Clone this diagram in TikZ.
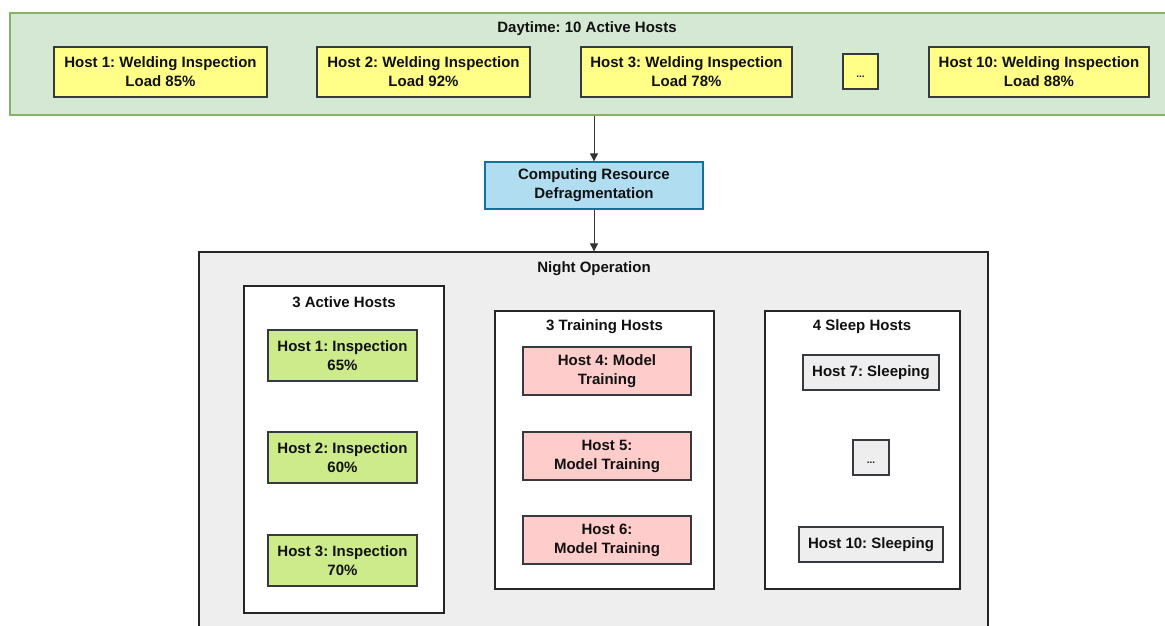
\documentclass[tikz,border=0pt]{standalone}
\usepackage{fontspec}
\setmainfont{Liberation Sans}
\usetikzlibrary{arrows.meta}

\definecolor{dayfill}{HTML}{D5E8D4}
\definecolor{dayline}{HTML}{82B366}
\definecolor{yellowfill}{HTML}{FFFF88}
\definecolor{boxline}{HTML}{36393D}
\definecolor{bluefill}{HTML}{B1DDF0}
\definecolor{blueline}{HTML}{10739E}
\definecolor{limefill}{HTML}{CDEB8B}
\definecolor{pinkfill}{HTML}{FFCCCC}
\definecolor{greyfill}{HTML}{EEEEEE}
\definecolor{txt}{HTML}{111111}

\frenchspacing

\tikzset{
  box/.style={draw=boxline, line width=1.3pt, align=center, inner sep=0pt,
    font=\fontsize{15}{19}\selectfont\bfseries, text=txt},
  daybox/.style={box, fill=yellowfill},
  activebox/.style={box, fill=limefill},
  trainbox/.style={box, fill=pinkfill},
  sleepbox/.style={box, fill=greyfill},
  dotbox/.style={font=\fontsize{10}{12}\selectfont\bfseries, text height=12pt, text depth=0pt},
  panel/.style={draw=black!85, line width=1.3pt, fill=white},
  heading/.style={inner sep=0pt, text=txt, font=\fontsize{15}{19}\selectfont\bfseries},
  arr/.style={draw=black!80, line width=0.9pt, -{Triangle[width=8pt,length=8pt]}}
}

\begin{document}
\begin{tikzpicture}[x=1pt,y=-1pt]
\useasboundingbox (0,0) rectangle (1165,625);
\clip (0,0) rectangle (1165,625);

% daytime group
\node[draw=dayline, fill=dayfill, line width=1.3pt, minimum width=1170pt, minimum height=102pt] (day) at (595,64) {};
\node[heading] (daytitle) at (587,29) {Daytime: 10 Active Hosts};
\node[daybox, minimum width=213pt, minimum height=50pt] (d1) at (160.5,72) {Host 1: Welding Inspection\\Load 85\%};
\node[daybox, minimum width=213pt, minimum height=50pt] (d2) at (423.5,72) {Host 2: Welding Inspection\\Load 92\%};
\node[daybox, minimum width=211pt, minimum height=50pt] (d3) at (686.5,72) {Host 3: Welding Inspection\\Load 78\%};
\node[daybox, dotbox, minimum width=35pt, minimum height=35pt] (ddots) at (860.5,71.5) {...};
\node[daybox, minimum width=220pt, minimum height=50pt] (d10) at (1039,72) {Host 10: Welding Inspection\\Load 88\%};

% defragmentation step
\node[box, draw=blueline, fill=bluefill, minimum width=218pt, minimum height=47pt] (defrag) at (594,185.5) {Computing Resource\\Defragmentation};

% night group
\node[draw=black!85, fill=greyfill, line width=1.3pt, minimum width=789pt, minimum height=400pt] (night) at (593.5,452) {};
\node[heading] (nighttitle) at (594,269) {Night Operation};

% active hosts
\node[panel, minimum width=200pt, minimum height=327pt] (actpanel) at (344,449.5) {};
\node[heading] (acttitle) at (344,302) {3 Active Hosts};
\node[activebox, minimum width=149pt, minimum height=51pt] (a1) at (342.5,355.5) {Host 1: Inspection\\65\%};
\node[activebox, minimum width=149pt, minimum height=51pt] (a2) at (342.5,457.5) {Host 2: Inspection\\60\%};
\node[activebox, minimum width=149pt, minimum height=51pt] (a3) at (342.5,560.5) {Host 3: Inspection\\70\%};

% training hosts
\node[panel, minimum width=219pt, minimum height=278pt] (trpanel) at (604.5,450) {};
\node[heading] (trtitle) at (604.5,327) {3 Training Hosts};
\node[trainbox, minimum width=168pt, minimum height=48pt] (t4) at (607,371) {Host 4: Model\\Training};
\node[trainbox, minimum width=168pt, minimum height=48pt] (t5) at (607,456) {Host 5:\\Model Training};
\node[trainbox, minimum width=168pt, minimum height=48pt] (t6) at (607,540) {Host 6:\\Model Training};

% sleeping hosts
\node[panel, minimum width=195pt, minimum height=278pt] (slpanel) at (862.5,450) {};
\node[heading] (sltitle) at (862,327) {4 Sleep Hosts};
\node[sleepbox, minimum width=136pt, minimum height=35pt] (s7) at (871,372.5) {Host 7: Sleeping};
\node[sleepbox, dotbox, minimum width=36pt, minimum height=35pt] (sdots) at (871,457.5) {...};
\node[sleepbox, minimum width=144pt, minimum height=35pt] (s10) at (871,544.5) {Host 10: Sleeping};

% flow
\draw[arr] (day.south -| defrag.north) -- (defrag.north);
\draw[arr] (defrag.south) -- (night.north -| defrag.south);
\end{tikzpicture}
\end{document}
